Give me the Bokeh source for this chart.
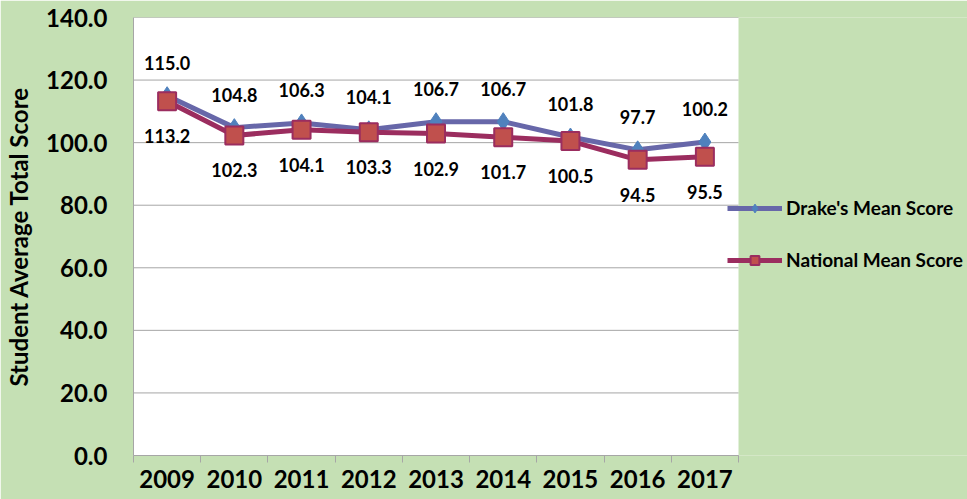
from bokeh.plotting import figure
from bokeh.models import (ColumnDataSource, FixedTicker, NumeralTickFormatter, Range1d,
                          Legend, LegendItem, LabelSet)
from bokeh.embed import file_html
from bokeh.resources import INLINE
from bokeh.core.properties import value

years = ["2009", "2010", "2011", "2012", "2013", "2014", "2015", "2016", "2017"]
drake = [115.0, 104.8, 106.3, 104.1, 106.7, 106.7, 101.8, 97.7, 100.2]
national = [113.2, 102.3, 104.1, 103.3, 102.9, 101.7, 100.5, 94.5, 95.5]
y_ticks = [0, 20, 40, 60, 80, 100, 120, 140]

BG = "#c5e0b4"
GRID = "#a6a6a6"
FONT = "Lato"

W, H = 967, 499
LEFT, TOP, BOTTOM = 133, 17, 44
PLOT_W = 605            # pixel width of the white plot area
n = len(years)
frame_w = W - LEFT
x_end = n * frame_w / PLOT_W   # extra room on the right for the legend

xs = [i + 0.5 for i in range(n)]
src = ColumnDataSource(dict(
    x=xs, drake=drake, national=national,
    dlab=[f"{v:.1f}" for v in drake], nlab=[f"{v:.1f}" for v in national],
))

p = figure(width=W, height=H, output_backend="svg", toolbar_location=None,
           x_range=Range1d(0, x_end), y_range=Range1d(0, 140),
           min_border_left=LEFT, min_border_right=0, min_border_top=TOP, min_border_bottom=BOTTOM)
p.background_fill_color = BG
p.border_fill_color = BG
p.outline_line_color = None

# white plot area
p.quad(left=[0], right=[n], bottom=[0], top=[y_ticks[-1]], fill_color="white",
       line_color=None, level="image")
# horizontal gridlines limited to the plot area
p.segment(x0=[0] * len(y_ticks), x1=[n] * len(y_ticks), y0=y_ticks, y1=y_ticks,
          line_color=GRID, line_width=1, level="underlay")

# axes
p.xaxis.ticker = FixedTicker(ticks=xs, minor_ticks=list(range(n + 1)))
p.xaxis.major_label_overrides = {x: y for x, y in zip(xs, years)}
p.xaxis.bounds = (0, n)
p.xaxis.major_tick_out = 0
p.xaxis.major_tick_in = 0
p.xaxis.minor_tick_out = 7
p.xaxis.minor_tick_in = 0
p.xaxis.minor_tick_line_color = GRID
p.xaxis.axis_line_color = GRID
p.xaxis.major_label_standoff = 7
p.xaxis.major_label_text_font = FONT
p.xaxis.major_label_text_font_style = "bold"
p.xaxis.major_label_text_font_size = "24px"
p.xaxis.major_label_text_color = "black"

p.yaxis.ticker = FixedTicker(ticks=y_ticks)
p.yaxis.formatter = NumeralTickFormatter(format="0.0")
p.yaxis.major_tick_out = 0
p.yaxis.major_tick_in = 0
p.yaxis.minor_tick_line_color = None
p.yaxis.axis_line_color = GRID
p.yaxis.major_label_standoff = 26
p.yaxis.major_label_text_font = FONT
p.yaxis.major_label_text_font_style = "bold"
p.yaxis.major_label_text_font_size = "24px"
p.yaxis.major_label_text_color = "black"
p.yaxis.axis_label = "Student Average Total Score"
p.yaxis.axis_label_text_font = FONT
p.yaxis.axis_label_text_font_style = "bold"
p.yaxis.axis_label_text_font_size = "24px"
p.yaxis.axis_label_text_color = "black"
p.yaxis.axis_label_standoff = 10

p.xgrid.grid_line_color = None
p.ygrid.grid_line_color = None

# series
dl = p.line("x", "drake", source=src, line_color="#6767a9", line_width=5)
dm = p.scatter("x", "drake", source=src, marker="diamond", size=18,
               fill_color="#4f81bd", line_color="#4f81bd")
nl = p.line("x", "national", source=src, line_color="#9b2d5f", line_width=5)
nm = p.scatter("x", "national", source=src, marker="square", size=18,
               fill_color="#c0504d", line_color="#9b2d5f", line_width=2)

lab_style = dict(text_font=value(FONT), text_font_style="bold", text_font_size="18px",
                 text_align="center", text_baseline="middle", text_color="black")
p.add_layout(LabelSet(x="x", y="drake", text="dlab", source=src, y_offset=33, **lab_style))
p.add_layout(LabelSet(x="x", y="national", text="nlab", source=src, y_offset=-35, **lab_style))

legend = Legend(items=[LegendItem(label="Drake's Mean Score", renderers=[dl, dm]),
                       LegendItem(label="National Mean Score", renderers=[nl, nm])],
                location=(594, 184), orientation="vertical")
legend.background_fill_alpha = 0
legend.border_line_color = None
legend.glyph_width = 55
legend.glyph_height = 22
legend.spacing = 29
legend.label_standoff = 4
legend.padding = 0
legend.margin = 0
legend.label_text_font = FONT
legend.label_text_font_style = "bold"
legend.label_text_font_size = "19px"
legend.label_text_color = "black"
p.add_layout(legend, "center")

html = file_html(p, INLINE)
html = html.replace("<body>", f'<body style="background:{BG}">', 1)
open("out.html", "w").write(html)
